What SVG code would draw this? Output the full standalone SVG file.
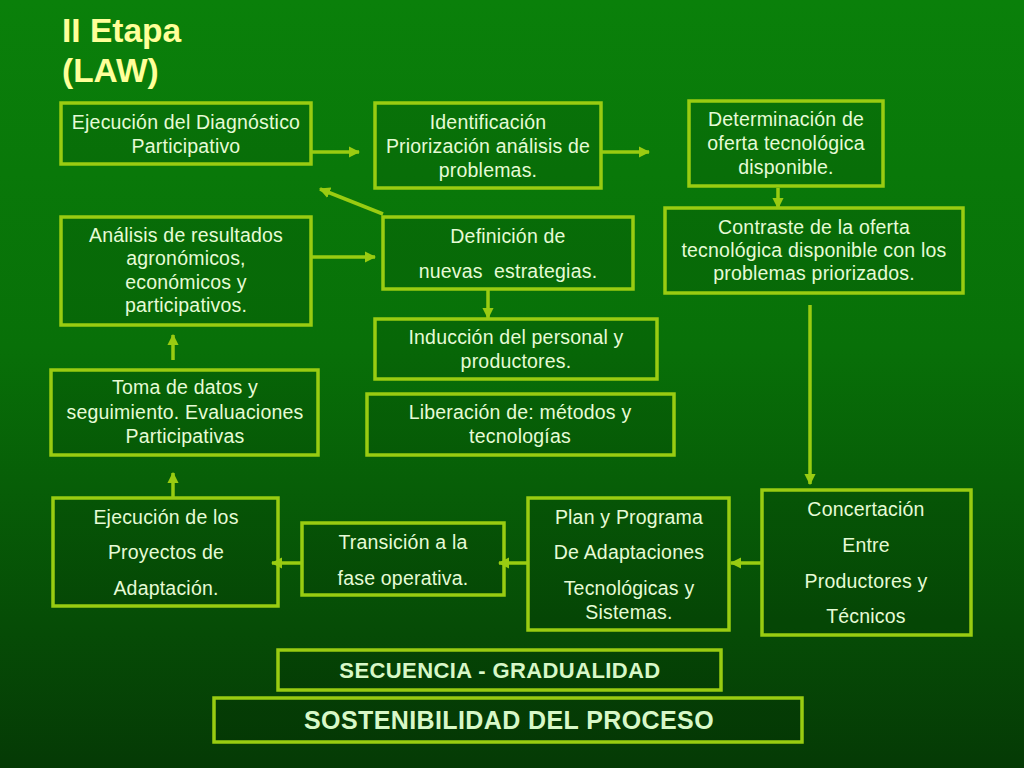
<svg xmlns="http://www.w3.org/2000/svg" width="1024" height="768" viewBox="0 0 1024 768">
<defs>
<linearGradient id="bg" x1="0" y1="0" x2="0" y2="1">
<stop offset="0" stop-color="#0a800a"/>
<stop offset="0.45" stop-color="#087008"/>
<stop offset="1" stop-color="#053a05"/>
</linearGradient>
<marker id="ah" viewBox="0 0 10 10" refX="9" refY="5" markerWidth="3.2" markerHeight="3.2" orient="auto" markerUnits="strokeWidth">
<path d="M0,0 L10,5 L0,10 z" fill="#99cc11"/>
</marker>
</defs>
<style>
.box{fill:#000;fill-opacity:0.08;stroke:#99cc11;stroke-width:3.5}
.t{font-family:"Liberation Sans",Arial,sans-serif;font-size:19.5px;letter-spacing:0.2px;fill:#e6fbd6;text-anchor:middle;dominant-baseline:central}
.b{font-family:"Liberation Sans",Arial,sans-serif;font-weight:bold;fill:#d8f8c8;text-anchor:middle;dominant-baseline:central}
.title{font-family:"Liberation Sans",Arial,sans-serif;font-weight:bold;font-size:33.5px;fill:#ffff99}
.c{stroke:#99cc11;stroke-width:3.5;fill:none;marker-end:url(#ah)}
</style>
<rect width="1024" height="768" fill="url(#bg)"/>
<text class="title" x="62" y="42">II Etapa</text>
<text class="title" x="62" y="82">(LAW)</text>

<g id="n1"><rect class="box" x="61" y="103" width="250" height="61"/>
<text class="t" x="186" y="122">Ejecución del Diagnóstico</text>
<text class="t" x="186" y="146">Participativo</text></g>

<g id="n2"><rect class="box" x="375" y="103" width="226" height="85"/>
<text class="t" x="488" y="122">Identificación</text>
<text class="t" x="488" y="146">Priorización análisis de</text>
<text class="t" x="488" y="170">problemas.</text></g>

<g id="n3"><rect class="box" x="689" y="101" width="194" height="85"/>
<text class="t" x="786" y="119">Determinación de</text>
<text class="t" x="786" y="143">oferta tecnológica</text>
<text class="t" x="786" y="167">disponible.</text></g>

<g id="n4"><rect class="box" x="665" y="208" width="298" height="85"/>
<text class="t" x="814" y="227">Contraste de la oferta</text>
<text class="t" x="814" y="250">tecnológica disponible con los</text>
<text class="t" x="814" y="273">problemas priorizados.</text></g>

<g id="n5"><rect class="box" x="762" y="490" width="209" height="145"/>
<text class="t" x="866" y="509">Concertación</text>
<text class="t" x="866" y="545">Entre</text>
<text class="t" x="866" y="581">Productores y</text>
<text class="t" x="866" y="616">Técnicos</text></g>

<g id="n6"><rect class="box" x="528" y="498" width="201" height="132"/>
<text class="t" x="629" y="517">Plan y Programa</text>
<text class="t" x="629" y="552">De Adaptaciones</text>
<text class="t" x="629" y="588">Tecnológicas y</text>
<text class="t" x="629" y="612">Sistemas.</text></g>

<g id="n7"><rect class="box" x="302" y="523" width="202" height="72"/>
<text class="t" x="403" y="542">Transición a la</text>
<text class="t" x="403" y="578">fase operativa.</text></g>

<g id="n8"><rect class="box" x="53" y="498" width="225" height="108"/>
<text class="t" x="166" y="517">Ejecución de los</text>
<text class="t" x="166" y="552">Proyectos de</text>
<text class="t" x="166" y="588">Adaptación.</text></g>

<g id="n9"><rect class="box" x="51" y="370" width="267" height="85"/>
<text class="t" x="185" y="387">Toma de datos y</text>
<text class="t" x="185" y="412">seguimiento. Evaluaciones</text>
<text class="t" x="185" y="436">Participativas</text></g>

<g id="n10"><rect class="box" x="61" y="217" width="250" height="108"/>
<text class="t" x="186" y="235">Análisis de resultados</text>
<text class="t" x="186" y="258">agronómicos,</text>
<text class="t" x="186" y="282">económicos y</text>
<text class="t" x="186" y="305">participativos.</text></g>

<g id="n11"><rect class="box" x="383" y="217" width="250" height="72"/>
<text class="t" x="508" y="236">Definición de</text>
<text class="t" x="508" y="271" xml:space="preserve">nuevas  estrategias.</text></g>

<g id="n12"><rect class="box" x="375" y="319" width="282" height="60"/>
<text class="t" x="516" y="337">Inducción del personal y</text>
<text class="t" x="516" y="361">productores.</text></g>

<g id="n13"><rect class="box" x="367" y="394" width="307" height="61"/>
<text class="t" x="520" y="412">Liberación de: métodos y</text>
<text class="t" x="520" y="436">tecnologías</text></g>

<g id="n14"><rect class="box" x="278" y="650" width="443" height="40"/>
<text class="b" x="500" y="670" font-size="22" letter-spacing="0.4">SECUENCIA - GRADUALIDAD</text></g>

<g id="n15"><rect class="box" x="214" y="698" width="588" height="44"/>
<text class="b" x="509" y="720" font-size="25" letter-spacing="0.4">SOSTENIBILIDAD DEL PROCESO</text></g>

<g id="connectors">
<line class="c" x1="312" y1="152" x2="359" y2="152"/>
<line class="c" x1="602" y1="152" x2="649" y2="152"/>
<line class="c" x1="778" y1="188" x2="778" y2="208"/>
<line class="c" x1="810" y1="305" x2="810" y2="484"/>
<line class="c" x1="761" y1="563" x2="731" y2="563"/>
<line class="c" x1="527" y1="563" x2="499" y2="563"/>
<line class="c" x1="301" y1="563" x2="272" y2="563"/>
<line class="c" x1="173" y1="497" x2="173" y2="473"/>
<line class="c" x1="173" y1="360" x2="173" y2="335"/>
<line class="c" x1="312" y1="257" x2="375" y2="257"/>
<line class="c" x1="383" y1="214" x2="320" y2="189"/>
<line class="c" x1="488" y1="290" x2="488" y2="318"/>
</g>
</svg>
